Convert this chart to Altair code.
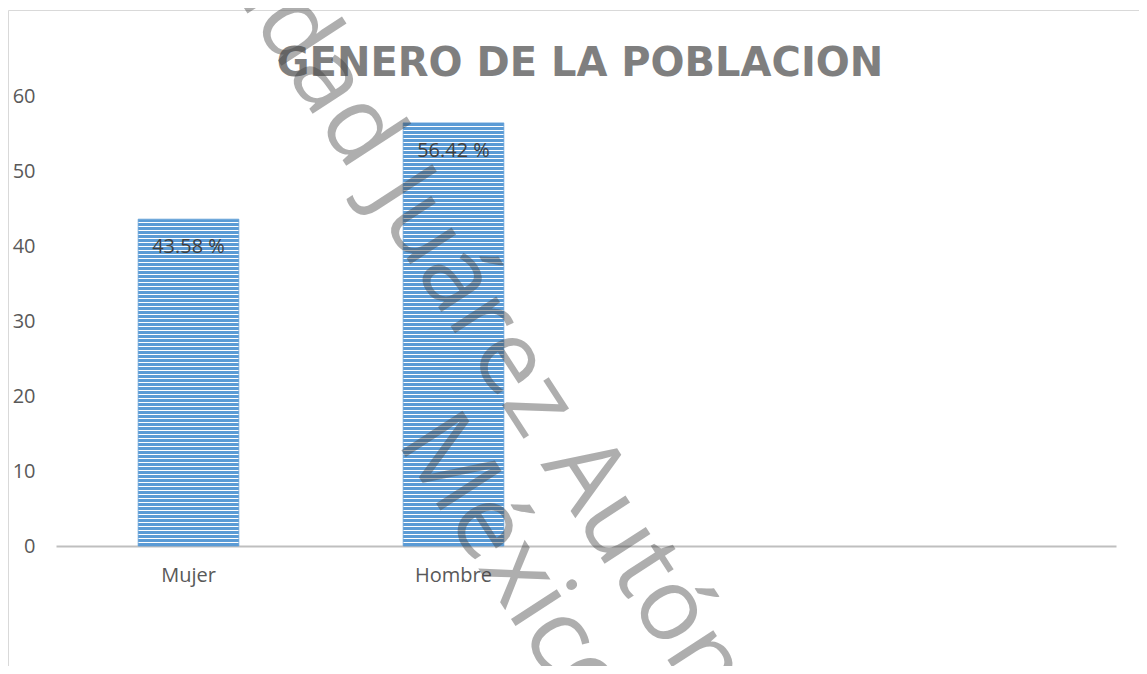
import altair as alt
import pandas as pd

# ---- data ----
categories = ["Mujer", "Hombre"]
values = [43.58, 56.42]
value_labels = ["43.58 %", "56.42 %"]
empty_slots = ["_c3", "_c4"]          # two empty category slots on the axis
y_ticks = [0, 10, 20, 30, 40, 50, 60]
title_text = ["GENERO DE LA POBLACION"]
watermark_1a = "Universidad"
watermark_1b = "Juárez Autónoma de Tabasco"
watermark_2 = "México"

df = pd.DataFrame({"cat": categories, "val": values, "lab": value_labels})

W, H = 1060, 450
YMAX = 60
BLUE = "#5b9bd5"
LIGHT = "#ffffff"


def stripes(height_px, period=4.0, blue_part=3.0):
    stops = []
    p = 0.0
    while p < height_px:
        a = p / height_px
        b = min((p + blue_part) / height_px, 1.0)
        c = min((p + period) / height_px, 1.0)
        stops += [
            alt.GradientStop(offset=a, color=BLUE),
            alt.GradientStop(offset=b, color=BLUE),
            alt.GradientStop(offset=b, color=LIGHT),
            alt.GradientStop(offset=c, color=LIGHT),
        ]
        p += period
    return alt.LinearGradient(gradient="linear", stops=stops, x1=0, x2=0, y1=1, y2=0)


x_scale = alt.Scale(domain=categories + empty_slots, paddingInner=0.62, paddingOuter=0.31)
y_scale = alt.Scale(domain=[0, YMAX])

x_enc = alt.X(
    "cat:N",
    scale=x_scale,
    sort=None,
    axis=alt.Axis(
        title=None,
        labelExpr="indexof(['_c3','_c4'], datum.value) >= 0 ? '' : datum.label",
        labelAngle=0,
        ticks=False,
        domainColor="#bfbfbf",
        domainWidth=2,
        labelPadding=19,
        labelFontSize=20,
        labelFont="Open Sans",
        labelColor="#595959",
    ),
)
y_enc = alt.Y(
    "val:Q",
    scale=y_scale,
    axis=alt.Axis(
        title=None,
        values=y_ticks,
        grid=False,
        domain=False,
        ticks=False,
        labelPadding=21,
        labelFontSize=20,
        labelFont="Open Sans",
        labelColor="#595959",
    ),
)

frame = alt.Chart(pd.DataFrame({"k": [0]})).mark_rect(
    fill=None, stroke="#d9d9d9", strokeWidth=1
).encode(
    x=alt.value(-47.5), x2=alt.value(2000), y=alt.value(-85.5), y2=alt.value(2000)
)

title = alt.Chart(pd.DataFrame({"t": title_text})).mark_text(
    font="DejaVu Sans", fontSize=40, fontWeight="bold", color="#7f7f7f",
    align="center", baseline="alphabetic"
).encode(x=alt.value(524), y=alt.value(-20), text="t:N")

bar_layers = []
for c, v in zip(categories, values):
    h = v / YMAX * H
    bar_layers.append(
        alt.Chart(df).transform_filter(alt.datum.cat == c).mark_bar(
            fill=stripes(h), stroke=BLUE, strokeWidth=1, strokeOpacity=0.7
        ).encode(x=x_enc, y=y_enc)
    )

labels = alt.Chart(df).mark_text(
    baseline="middle", dy=28, fontSize=20, font="Open Sans", color="#404040"
).encode(x=alt.X("cat:N", scale=x_scale, sort=None), y=alt.Y("val:Q", scale=y_scale), text="lab:N")

wm_style = dict(font="Open Sans", fontSize=102, color="#404040", opacity=0.42,
                angle=57, baseline="alphabetic")
wm_df = pd.DataFrame({"t1": [watermark_1a], "t2": [watermark_1b], "t3": [watermark_2]})
wm1 = alt.Chart(wm_df).mark_text(align="right", **wm_style).encode(
    x=alt.value(295), y=alt.value(77), text="t1:N")
wm2 = alt.Chart(wm_df).mark_text(align="left", **wm_style).encode(
    x=alt.value(310), y=alt.value(100), text="t2:N")
wm3 = alt.Chart(wm_df).mark_text(align="left", **wm_style).encode(
    x=alt.value(340), y=alt.value(346), text="t3:N")

chart = alt.layer(frame, title, *bar_layers, labels, wm1, wm2, wm3).properties(
    width=W,
    height=H,
    autosize=alt.AutoSizeParams(type="none"),
    padding={"left": 48, "top": 88, "right": 23, "bottom": 120},
    background="white",
).configure_view(stroke=None)

chart.save("out.html", embed_options={"renderer": "svg", "actions": False})
